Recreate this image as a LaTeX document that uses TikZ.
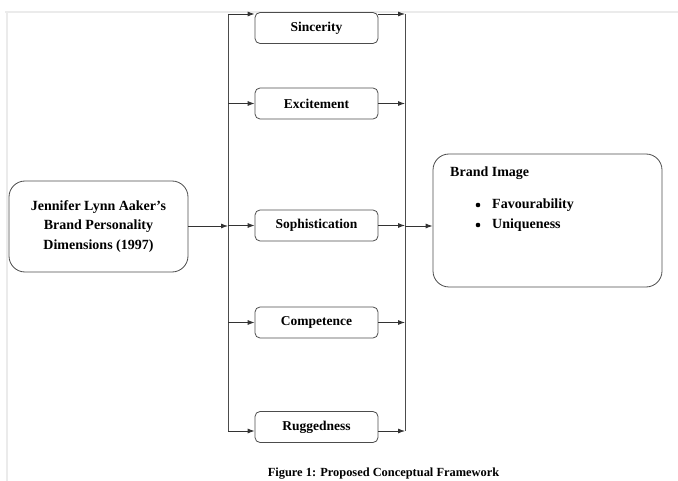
\documentclass[tikz,border=0pt]{standalone}
\usepackage{fontspec}
\setmainfont{Liberation Serif}
\usetikzlibrary{arrows.meta}

\tikzset{
  dimbox/.style={draw=black!70, line width=0.8pt, rounded corners=5pt, minimum width=123pt, minimum height=31pt, inner sep=0pt, font=\fontsize{13.5}{16}\selectfont\bfseries},
  bigbox/.style={draw=black!70, line width=0.8pt, rounded corners=16pt, inner sep=0pt},
  imgtext/.style={anchor=west, inner sep=0pt, font=\fontsize{14}{16}\selectfont\bfseries},
  link/.style={draw=black!80, line width=0.8pt, -{Latex[length=7pt,width=5pt]}},
  bus/.style={draw=black!70, line width=0.8pt}
}

\begin{document}
\begin{tikzpicture}[x=1pt, y=-1pt]
    \useasboundingbox (0, 0) rectangle (678, 481);
    % faint page edge
    \draw[black!8, line width=1.5pt] (5, 12) -- (678, 12);
    \draw[black!8, line width=1.5pt] (7, 12) -- (7, 481);

    % source and target
    \node[bigbox, minimum width=179pt, minimum height=91pt, align=center, font=\fontsize{14}{19.5}\selectfont\bfseries] (aaker) at (98.5, 226.5) {Jennifer Lynn Aaker's\\Brand Personality\\Dimensions (1997)};
    \node[bigbox, minimum width=229pt, minimum height=133pt] (image) at (547.5, 220.5) {};
    \node[imgtext] (title) at (450, 173) {Brand Image};
    \node[imgtext] (fav) at (492, 205) {Favourability};
    \node[imgtext] (uni) at (492, 225) {Uniqueness};
    \fill (478, 205) circle (2.3pt);
    \fill (478, 225) circle (2.3pt);

    % five dimensions
    \node[dimbox] (sinc) at (316.5, 28) {Sincerity};
    \node[dimbox] (exci) at (316.5, 103.5) {Excitement};
    \node[dimbox] (soph) at (316.5, 225.5) {Sophistication};
    \node[dimbox] (comp) at (316.5, 322.5) {Competence};
    \node[dimbox] (rugg) at (316.5, 427) {Ruggedness};

    % buses
    \coordinate (lt) at (228, 14);
    \coordinate (lb) at (228, 431);
    \coordinate (rt) at (405, 14);
    \coordinate (rb) at (405, 431);
    \coordinate (lm) at (228, 226);
    \coordinate (rm) at (405, 226);
    \draw[bus] (lt) -- (lb);
    \draw[bus] (rt) -- (rb);

    \draw[link] (aaker.east |- lm) -- (lm);
    \draw[link] (lt) -- (sinc.west |- lt);
    \draw[link] (sinc.east |- rt) -- (rt);
    \draw[link] (lb) -- (rugg.west |- lb);
    \draw[link] (rugg.east |- rb) -- (rb);
    \foreach \d in {exci, soph, comp} {
      \draw[link] (lt |- \d.west) -- (\d.west);
      \draw[link] (\d.east) -- (rt |- \d.east);
    }
    \draw[link] (rm) -- (image.west |- rm);

    \node[font=\fontsize{12.4}{14}\selectfont\bfseries] (caption) at (383.5, 474) {Figure 1: Proposed Conceptual Framework};
  \end{tikzpicture}
\end{document}
